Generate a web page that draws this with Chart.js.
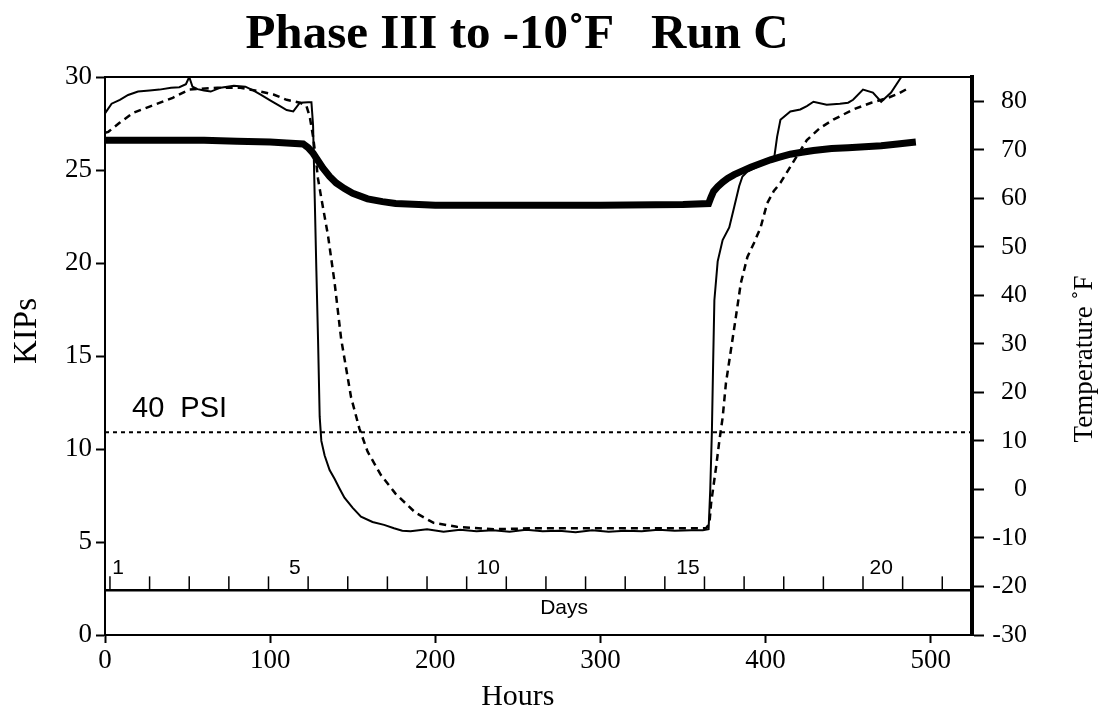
<!DOCTYPE html>
<html>
<head>
<meta charset="utf-8">
<script src="https://cdn.jsdelivr.net/npm/chart.js@4.4.0/dist/chart.umd.min.js"></script>
<style>
html, body { margin: 0; padding: 0; background: #fff; }
#wrap { width: 1107px; height: 713px; }
</style>
</head>
<body>
<div id="wrap"><canvas id="runC" width="1107" height="713"></canvas></div>
<script>
// load on the specimen (KIPs, left axis)
const loadHours = [0, 20, 40, 60, 80, 100, 110, 120, 123, 126, 129, 132, 136, 140, 145, 150, 159, 168, 176, 190, 200, 250, 300, 350, 365.5, 367, 368.5, 371, 374, 377, 381, 386, 391, 397, 403, 409, 415, 422, 429, 440, 450, 460, 470, 480, 491];
const loadKips = [26.6, 26.6, 26.6, 26.6, 26.55, 26.5, 26.45, 26.4, 26.2, 25.9, 25.5, 25.1, 24.65, 24.3, 24.0, 23.75, 23.45, 23.3, 23.2, 23.15, 23.1, 23.1, 23.1, 23.15, 23.2, 23.55, 23.85, 24.1, 24.35, 24.55, 24.75, 24.95, 25.15, 25.35, 25.55, 25.7, 25.85, 25.95, 26.05, 26.15, 26.2, 26.25, 26.3, 26.4, 26.5];

// temperature, solid trace (deg F, right axis)
const tempSolidHours = [0, 4, 9, 14, 20, 27, 33, 40, 45, 49, 51, 53, 56, 60, 64, 70, 78, 85, 90, 94, 100, 106, 110, 114, 118, 123, 125, 126, 127, 128, 129, 130, 131, 133, 136, 139, 142, 145, 150, 155, 162, 169, 175, 180, 185, 195, 205, 215, 225, 235, 245, 255, 265, 275, 285, 295, 305, 315, 325, 335, 345, 355, 362, 365.5, 366.5, 367.5, 368.3, 369, 371, 374, 378, 381, 384, 386, 389, 395, 400, 405, 407, 409, 415, 421, 425, 429, 437, 445, 450, 453, 459, 465, 470, 476, 482, 486];
const tempSolid = [77.5, 79.5, 80.3, 81.3, 82, 82.2, 82.4, 82.8, 82.9, 83.5, 85, 83, 82.5, 82.2, 82, 82.8, 83.2, 83, 82.2, 81.4, 80.2, 79, 78.2, 77.9, 79.7, 79.8, 79.8, 75, 60, 45, 31, 15, 10, 7, 4, 2.2, 0.2, -1.7, -3.8, -5.6, -6.7, -7.3, -8, -8.5, -8.6, -8.2, -8.7, -8.3, -8.6, -8.4, -8.7, -8.3, -8.6, -8.5, -8.8, -8.4, -8.7, -8.5, -8.6, -8.3, -8.5, -8.4, -8.4, -8.2, 0, 12, 27, 39, 47, 51.4, 54, 58.2, 62.5, 64.5, 65.5, 66.5, 67.2, 67.8, 72.7, 76.2, 77.9, 78.3, 79, 79.9, 79.3, 79.5, 79.7, 80.3, 82.4, 81.8, 79.9, 81.8, 84.9, 87];

// temperature, dashed trace (deg F, right axis)
const tempDashHours = [0, 2, 9, 17, 27, 41, 51, 68, 82, 94, 102, 110, 118, 122, 124, 126, 127, 129, 131, 135, 139, 143, 149, 154, 159, 167, 176, 188, 199, 213, 236, 260, 300, 340, 364, 366, 367, 370, 372, 374, 376, 379, 382, 385, 389, 393, 397, 401, 405, 409, 415, 425, 433, 441, 453, 464, 474, 480, 487];
const tempDash = [73.5, 73.7, 75.6, 77.6, 78.9, 80.7, 82.4, 82.8, 82.8, 82, 81.4, 80.3, 79.7, 79, 76.8, 72.7, 70, 64, 60, 52.4, 42.7, 31, 19, 12.6, 7.8, 3, -0.9, -4.8, -6.9, -7.7, -8.2, -8, -8, -8, -8, -7, -2.9, 4.5, 10, 14.8, 21.9, 28.7, 35.5, 42.5, 47.9, 50.8, 54, 59, 61.5, 63.2, 66.5, 72, 74.5, 76.2, 78.3, 79.7, 80.7, 81.5, 82.8];

// reference lines (KIPs)
const psiLineHours = [0, 525];
const psiLineKips = [10.9, 10.9];
const dayLineHours = [0, 525];
const dayLineKips = [2.4, 2.4];

// tick labels
const hourTicks = [0, 100, 200, 300, 400, 500];
const kipTicks = [0, 5, 10, 15, 20, 25, 30];
const tempTicks = [-30, -20, -10, 0, 10, 20, 30, 40, 50, 60, 70, 80];
const dayTickHours = [3, 27, 51, 75, 99, 123, 147, 171, 195, 219, 243, 267, 291, 315, 339, 363, 387, 411, 435, 459, 483, 507];
const dayLabels = ['1', '5', '10', '15', '20'];
const dayLabelHours = [8, 115, 232, 353, 470];

const SERIF = "'Liberation Serif', 'Times New Roman', serif";
const SANS = "'Liberation Sans', Arial, sans-serif";

function pts(xs, ys) {
    return xs.map(function(x, i) { return {x: x, y: ys[i]}; });
}

function fixTicks(list) {
    return function(scale) {
        scale.ticks = list.map(function(v) { return {value: v}; });
    };
}

const extras = {
    id: 'extras',
    afterDraw: function(chart) {
        const ctx = chart.ctx;
        const area = chart.chartArea;
        const xs = chart.scales.x;
        const ys = chart.scales.y;
        ctx.save();
        ctx.fillStyle = '#000';
        ctx.strokeStyle = '#000';

        // top frame line
        ctx.lineWidth = 2;
        ctx.beginPath();
        ctx.moveTo(area.left, area.top);
        ctx.lineTo(area.right, area.top);
        ctx.stroke();

        // title
        ctx.font = 'bold 49px ' + SERIF;
        ctx.textAlign = 'center';
        ctx.textBaseline = 'alphabetic';
        ctx.fillText('Phase III to -10˚F   Run C', 517, 48);

        // 40 PSI label
        ctx.font = '29px ' + SANS;
        ctx.textAlign = 'left';
        ctx.fillText('40  PSI', 132, 417);

        // day ticks on the days strip
        const yDay = ys.getPixelForValue(dayLineKips[0]);
        ctx.lineWidth = 1.5;
        dayTickHours.forEach(function(h) {
            const px = xs.getPixelForValue(h);
            ctx.beginPath();
            ctx.moveTo(px, yDay);
            ctx.lineTo(px, yDay - 14);
            ctx.stroke();
        });
        ctx.font = '21px ' + SANS;
        ctx.textAlign = 'center';
        ctx.textBaseline = 'middle';
        dayLabels.forEach(function(t, i) {
            ctx.fillText(t, xs.getPixelForValue(dayLabelHours[i]), yDay - 22);
        });
        ctx.fillText('Days', xs.getPixelForValue(278), yDay + 18);

        // axis titles
        ctx.font = '30px ' + SERIF;
        ctx.fillText('Hours', xs.getPixelForValue(250), 697);

        ctx.save();
        ctx.translate(27, 331);
        ctx.rotate(-Math.PI / 2);
        ctx.font = '33px ' + SERIF;
        ctx.fillText('KIPs', 0, 0);
        ctx.restore();

        ctx.save();
        ctx.translate(1085, 359);
        ctx.rotate(-Math.PI / 2);
        ctx.font = '27px ' + SERIF;
        ctx.fillText('Temperature ˚F', 0, 0);
        ctx.restore();

        ctx.restore();
    }
};

new Chart(document.getElementById('runC'), {
    type: 'line',
    data: {
        datasets: [{
            label: 'Load',
            data: pts(loadHours, loadKips),
            yAxisID: 'y',
            borderColor: '#000',
            borderWidth: 7,
            borderCapStyle: 'butt',
        }, {
            label: 'Temperature A',
            data: pts(tempSolidHours, tempSolid),
            yAxisID: 'y1',
            borderColor: '#000',
            borderWidth: 2,
        }, {
            label: 'Temperature B',
            data: pts(tempDashHours, tempDash),
            yAxisID: 'y1',
            borderColor: '#000',
            borderWidth: 2.5,
            borderDash: [7, 5],
        }, {
            label: '40 PSI',
            data: pts(psiLineHours, psiLineKips),
            yAxisID: 'y',
            borderColor: '#000',
            borderWidth: 2,
            borderDash: [4, 4],
        }, {
            label: 'Days',
            data: pts(dayLineHours, dayLineKips),
            yAxisID: 'y',
            borderColor: '#000',
            borderWidth: 2.5,
        }]
    },
    options: {
        responsive: false,
        animation: false,
        devicePixelRatio: 1,
        elements: {
            point: { radius: 0 },
            line: { tension: 0, fill: false }
        },
        layout: {
            padding: { top: 77, right: 80, bottom: 0, left: 0 }
        },
        plugins: {
            legend: { display: false },
            tooltip: { enabled: false },
        },
        scales: {
            x: {
                type: 'linear',
                min: 0,
                max: 525,
                afterBuildTicks: fixTicks(hourTicks),
                afterFit: function(s) { s.height = 78; },
                border: { display: true, color: '#000', width: 2 },
                grid: { drawOnChartArea: false, color: '#000', tickLength: 8, tickWidth: 2 },
                ticks: { color: '#000', font: { family: SERIF, size: 27 }, padding: 2, maxRotation: 0 },
            },
            y: {
                type: 'linear',
                position: 'left',
                min: 0,
                max: 30,
                afterBuildTicks: fixTicks(kipTicks),
                afterFit: function(s) { s.width = 105; },
                border: { display: true, color: '#000', width: 2 },
                grid: { drawOnChartArea: false, color: '#000', tickLength: 9, tickWidth: 2 },
                ticks: { color: '#000', font: { family: SERIF, size: 27 }, padding: 4 },
            },
            y1: {
                type: 'linear',
                position: 'right',
                min: -30,
                max: 85,
                afterBuildTicks: fixTicks(tempTicks),
                afterFit: function(s) { s.width = 55; },
                border: { display: true, color: '#000', width: 4 },
                grid: { drawOnChartArea: false, color: '#000', tickLength: 12, tickWidth: 2 },
                ticks: { color: '#000', font: { family: SERIF, size: 26 }, padding: 3, crossAlign: 'far' },
            }
        }
    },
    plugins: [extras]
});
</script>
</body>
</html>
